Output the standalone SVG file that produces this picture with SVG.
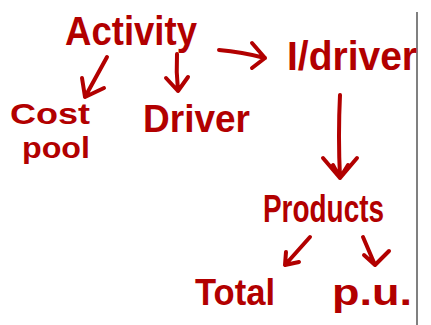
<svg xmlns="http://www.w3.org/2000/svg" width="431" height="325" viewBox="0 0 431 325">
  <style>
    .lbl { font-family: "Liberation Sans", "DejaVu Sans", sans-serif; font-weight: bold; fill: #b20000; }
    .conn path { fill: none; stroke: #b20000; stroke-width: 4; stroke-linecap: round; stroke-linejoin: round; }
  </style>
  <rect width="431" height="325" fill="#ffffff"/>
  <!-- page margin line -->
  <line x1="417" y1="12" x2="417" y2="325" stroke="#808080" stroke-width="2"/>

  <g id="activity"><text class="lbl" x="65" y="45" font-size="40" textLength="132" lengthAdjust="spacingAndGlyphs">Activity</text></g>
  <g id="cost-pool">
    <text class="lbl" x="10" y="124" font-size="30" textLength="80" lengthAdjust="spacingAndGlyphs">Cost</text>
    <text class="lbl" x="22" y="158" font-size="30" textLength="68" lengthAdjust="spacingAndGlyphs">pool</text>
  </g>
  <g id="driver"><text class="lbl" x="143" y="132" font-size="38" textLength="107" lengthAdjust="spacingAndGlyphs">Driver</text></g>
  <g id="idriver"><text class="lbl" x="287" y="70" font-size="40" textLength="130" lengthAdjust="spacingAndGlyphs">I/driver</text></g>
  <g id="products"><text class="lbl" x="263" y="222" font-size="38" textLength="121" lengthAdjust="spacingAndGlyphs">Products</text></g>
  <g id="total"><text class="lbl" x="195" y="305" font-size="36" textLength="80" lengthAdjust="spacingAndGlyphs">Total</text></g>
  <g id="pu"><text class="lbl" x="332" y="305" font-size="36" textLength="80" lengthAdjust="spacingAndGlyphs">p.u.</text></g>

  <g class="conn">
    <!-- Activity to Cost pool -->
    <path d="M107,57 L85,97 M82,78 L85,97 L104,88"/>
    <!-- Activity to Driver -->
    <path d="M177,54 Q176,72 178,91 M166,78 L178,91 L188,77"/>
    <!-- Activity to I/driver -->
    <path d="M219,50 Q242,52 265,58 M252,43 L265,58 L252,68"/>
    <!-- I/driver to Products -->
    <path d="M340,95 Q338,135 340,178 M323,158 L340,178 L357,158 M333,165 L340,178 L348,165"/>
    <!-- Products to Total -->
    <path d="M310,237 L285,265 M286,252 L285,265 L299,262"/>
    <!-- Products to p.u. -->
    <path d="M363,237 L375,265 M389,251 L375,265 L364,255"/>
  </g>
</svg>
